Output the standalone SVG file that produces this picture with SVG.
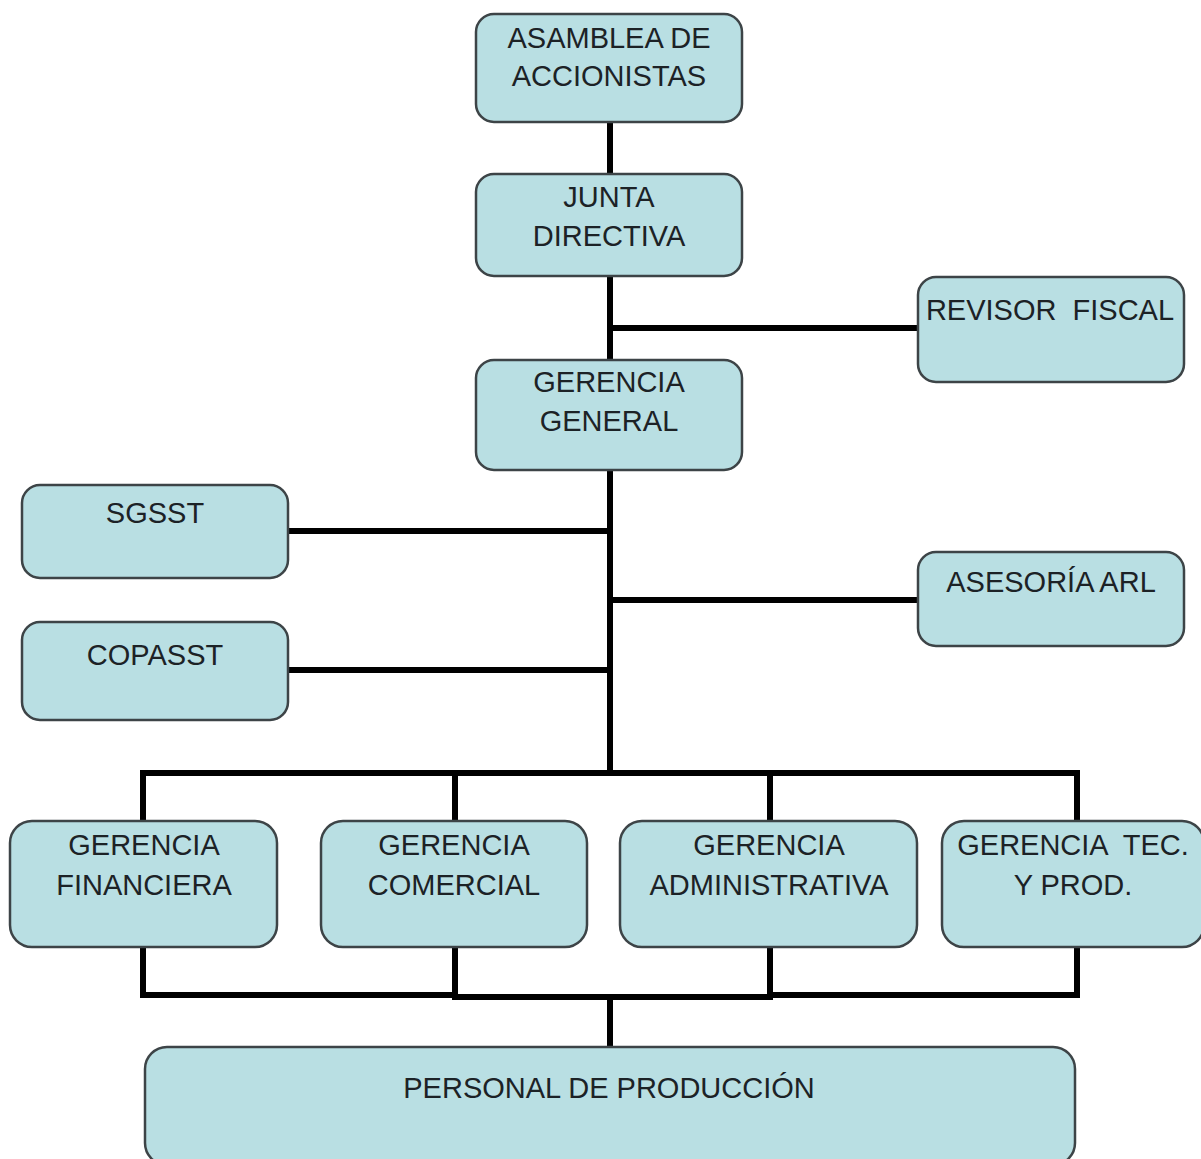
<svg xmlns="http://www.w3.org/2000/svg" width="1201" height="1159" viewBox="0 0 1201 1159">
<style>
.box{fill:#b9dfe3;stroke:#3d4447;stroke-width:2.5}
.t{font-family:"Liberation Sans",Arial,sans-serif;font-size:29px;fill:#1c2226;text-anchor:middle}
.c{stroke:#000;stroke-width:6;fill:none;stroke-linecap:square}
</style>
<rect width="1201" height="1159" fill="#fff"/>
<g id="connectors">
<path class="c" d="M610 122V773M610 328H918M288 531H610M610 600H918M288 670H610"/>
<path class="c" d="M143 821V773H1077V821M455 773V821M770 773V821"/>
<path class="c" d="M143 947V995H455M455 947V997H770M770 947V995H1077V947M610 997V1047"/>
</g>
<g id="asamblea"><rect class="box" x="476" y="14" width="266" height="108" rx="18"/><text class="t" x="609" y="48">ASAMBLEA DE</text><text class="t" x="609" y="86">ACCIONISTAS</text></g>
<g id="junta"><rect class="box" x="476" y="174" width="266" height="102" rx="18"/><text class="t" x="609" y="207">JUNTA</text><text class="t" x="609" y="246">DIRECTIVA</text></g>
<g id="revisor"><rect class="box" x="918" y="277" width="266" height="105" rx="18"/><text class="t" x="1050" y="320" xml:space="preserve">REVISOR  FISCAL</text></g>
<g id="gerencia-general"><rect class="box" x="476" y="360" width="266" height="110" rx="18"/><text class="t" x="609" y="392">GERENCIA</text><text class="t" x="609" y="431">GENERAL</text></g>
<g id="sgsst"><rect class="box" x="22" y="485" width="266" height="93" rx="18"/><text class="t" x="155" y="523">SGSST</text></g>
<g id="arl"><rect class="box" x="918" y="552" width="266" height="94" rx="18"/><text class="t" x="1051" y="592">ASESORÍA ARL</text></g>
<g id="copasst"><rect class="box" x="22" y="622" width="266" height="98" rx="18"/><text class="t" x="155" y="665">COPASST</text></g>
<g id="financiera"><rect class="box" x="10" y="821" width="267" height="126" rx="22"/><text class="t" x="144" y="855">GERENCIA</text><text class="t" x="144" y="895">FINANCIERA</text></g>
<g id="comercial"><rect class="box" x="321" y="821" width="266" height="126" rx="22"/><text class="t" x="454" y="855">GERENCIA</text><text class="t" x="454" y="895">COMERCIAL</text></g>
<g id="administrativa"><rect class="box" x="620" y="821" width="297" height="126" rx="22"/><text class="t" x="769" y="855">GERENCIA</text><text class="t" x="769" y="895">ADMINISTRATIVA</text></g>
<g id="tecnica"><rect class="box" x="942" y="821" width="262" height="126" rx="22"/><text class="t" x="1073" y="855" xml:space="preserve">GERENCIA  TEC.</text><text class="t" x="1073" y="895">Y PROD.</text></g>
<g id="personal"><rect class="box" x="145" y="1047" width="930" height="118" rx="22"/><text class="t" x="609" y="1098">PERSONAL DE PRODUCCIÓN</text></g>
</svg>
